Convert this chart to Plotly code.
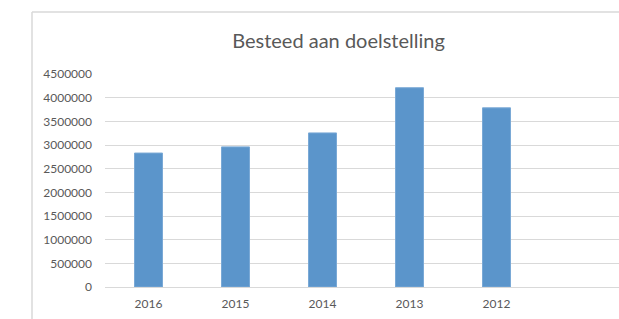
import plotly.graph_objects as go

categories = ["2016", "2015", "2014", "2013", "2012"]
values = [2830000, 2960000, 3255000, 4210000, 3785000]
y_ticks = [0, 500000, 1000000, 1500000, 2000000, 2500000, 3000000, 3500000, 4000000, 4500000]
title_text = "Besteed aan doelstelling"

W, H = 619, 319
ML, MR, MT, MB = 105, 0, 74, 32
FONT = "Lato, 'Open Sans', sans-serif"
TXT = "#595959"

fig = go.Figure(
    go.Bar(
        x=categories,
        y=values,
        marker=dict(color="#5B95CB", line=dict(color="#7AA9D6", width=1)),
        hoverinfo="x+y",
    )
)

plot_w = W - ML - MR
plot_h = H - MT - MB
band = 87.0
n_vis = plot_w / band

# chart border (light grey frame, cropped at right/bottom like the original)
bx = (32 - ML) / plot_w
by = 1 + (MT - 12) / plot_h
fig.add_shape(type="line", xref="paper", yref="paper", x0=bx, x1=bx, y0=by, y1=-0.3,
              line=dict(color="#D9D9D9", width=1.5))
fig.add_shape(type="line", xref="paper", yref="paper", x0=bx, x1=1.2, y0=by, y1=by,
              line=dict(color="#D9D9D9", width=1.5))

fig.update_layout(
    width=W, height=H,
    margin=dict(l=ML, r=MR, t=MT, b=MB),
    paper_bgcolor="white", plot_bgcolor="white",
    bargap=1 - 28 / band,
    showlegend=False,
    font=dict(family=FONT, color=TXT, size=12),
    title=dict(text=title_text, x=338.5 / W, xanchor="center", y=1 - 41 / H, yanchor="middle",
               yref="container", font=dict(size=20, color=TXT, family=FONT)),
    xaxis=dict(
        type="category",
        range=[-0.5, -0.5 + n_vis],
        showgrid=False,
        showline=False,
        ticks="",
        tickfont=dict(size=12, color=TXT),
        ticklabelstandoff=8,
        fixedrange=True,
    ),
    yaxis=dict(
        range=[0, 4500000],
        tickvals=y_ticks,
        ticktext=[str(v) for v in y_ticks],
        showgrid=True,
        gridcolor="#D9D9D9",
        gridwidth=1,
        zeroline=True,
        zerolinecolor="#D9D9D9",
        zerolinewidth=1,
        showline=False,
        ticks="",
        tickfont=dict(size=12, color=TXT),
        ticklabelstandoff=12,
        fixedrange=True,
    ),
)

fig.write_html(
    "out.html",
    config={"displayModeBar": False},
    post_script=(
        "document.documentElement.style.margin='0';document.documentElement.style.overflow='hidden';"
        "document.body.style.margin='0';document.body.style.overflow='hidden';"
    ),
)
